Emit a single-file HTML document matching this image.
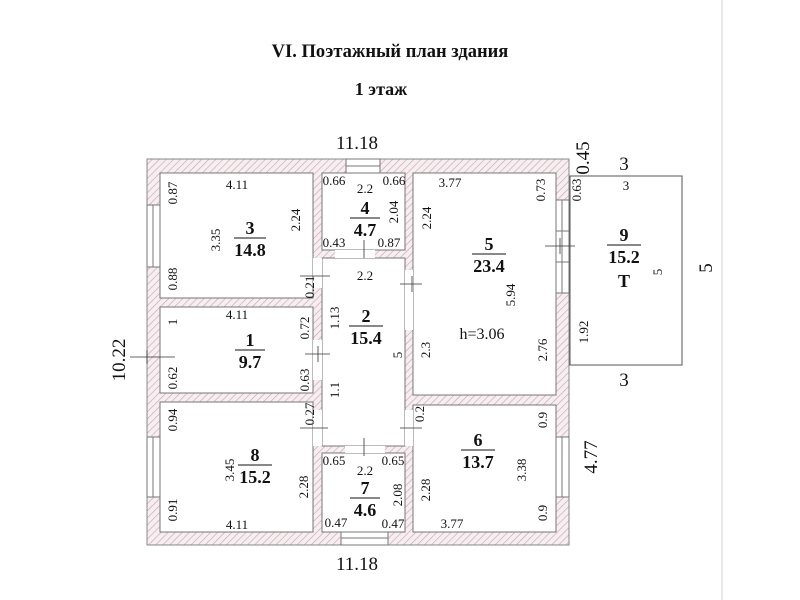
<!DOCTYPE html>
<html><head><meta charset="utf-8"><style>
body{margin:0;background:#fff}
svg{display:block}
text{font-family:"Liberation Serif",serif;fill:#111}
.s{font-size:13px}
.m{font-size:19px}
.b{font-size:18px;font-weight:bold}
</style></head><body>
<svg width="800" height="600" viewBox="0 0 800 600">
<defs>
<pattern id="h" width="5" height="5" patternUnits="userSpaceOnUse" patternTransform="rotate(45)">
<rect width="5" height="5" fill="#f6eef0"/><line x1="0" y1="0" x2="0" y2="5" stroke="#c9a9b0" stroke-width="1.3"/>
</pattern>
</defs>
<line x1="722" y1="0" x2="722" y2="600" stroke="#e8e8e8" stroke-width="2"/>
<text x="390" y="57" text-anchor="middle" style="font-size:18.5px;font-weight:bold">VI. Поэтажный план здания</text>
<text x="381" y="95" text-anchor="middle" style="font-size:18px;font-weight:bold">1 этаж</text>
<!-- walls -->
<rect x="147" y="159" width="422" height="386" fill="url(#h)" stroke="#888" stroke-width="1"/>
<g fill="#fff" stroke="#777" stroke-width="1">
<rect x="160" y="173" width="153" height="125"/>
<rect x="322" y="173" width="83" height="77"/>
<rect x="413" y="173" width="143" height="222"/>
<rect x="160" y="307" width="153" height="86"/>
<rect x="322" y="258" width="83" height="188"/>
<rect x="160" y="402" width="153" height="130"/>
<rect x="322" y="453" width="83" height="79"/>
<rect x="413" y="405" width="143" height="127"/>
</g>
<g fill="#fff" stroke="none">
<rect x="313" y="258" width="9" height="30"/>
<rect x="313" y="340" width="9" height="40"/>
<rect x="313" y="410" width="9" height="36"/>
<rect x="405" y="270" width="8" height="60"/>
<rect x="405" y="410" width="8" height="36"/>
<rect x="335" y="250" width="40" height="8"/>
<rect x="345" y="446" width="40" height="7"/>
</g>
<g fill="#fff" stroke="#777" stroke-width="1">
<rect x="147" y="205" width="13" height="62"/>
<rect x="147" y="437" width="13" height="60"/>
<rect x="556" y="437" width="13" height="60"/>
<rect x="556" y="200" width="13" height="93"/>
<rect x="346" y="159" width="34" height="14"/>
<rect x="341" y="532" width="47" height="13"/>
</g>
<g stroke="#777" stroke-width="1">
<line x1="153" y1="205" x2="153" y2="267"/>
<line x1="153" y1="437" x2="153" y2="497"/>
<line x1="562" y1="437" x2="562" y2="497"/>
<line x1="562" y1="200" x2="562" y2="293"/>
<line x1="556" y1="231" x2="569" y2="231"/><line x1="556" y1="262" x2="569" y2="262"/>
<line x1="346" y1="166" x2="380" y2="166"/>
<line x1="341" y1="538" x2="388" y2="538"/>
</g>
<g stroke="#333" stroke-width="0.8">
<line x1="130" y1="357" x2="175" y2="357"/><line x1="147" y1="350" x2="147" y2="364"/>
<line x1="545" y1="246" x2="575" y2="246"/><line x1="560" y1="238" x2="560" y2="254"/>
<line x1="570" y1="365" x2="680" y2="365"/>
<line x1="305" y1="354" x2="330" y2="354"/><line x1="318" y1="346" x2="318" y2="362"/>
<line x1="300" y1="276" x2="330" y2="276"/>
<line x1="300" y1="428" x2="328" y2="428"/>
<line x1="400" y1="428" x2="422" y2="428"/>
<line x1="400" y1="284" x2="422" y2="284"/><line x1="412" y1="276" x2="412" y2="292"/>
<line x1="364" y1="240" x2="364" y2="258"/>
<line x1="364" y1="438" x2="364" y2="456"/>
</g>
<rect x="570" y="176" width="112" height="189" fill="none" stroke="#555" stroke-width="1"/>
<g class="m">
<text x="357" y="149" text-anchor="middle">11.18</text>
<text x="357" y="570" text-anchor="middle">11.18</text>
<text x="624" y="170" text-anchor="middle">3</text>
<text x="624" y="386" text-anchor="middle">3</text>
<text transform="translate(125,360) rotate(-90)" text-anchor="middle">10.22</text>
<text transform="translate(597,457) rotate(-90)" text-anchor="middle">4.77</text>
<text transform="translate(712,268) rotate(-90)" text-anchor="middle">5</text>
<text transform="translate(589,158) rotate(-90)" text-anchor="middle">0.45</text>
</g>
<g class="s">
<text x="237" y="189" text-anchor="middle">4.11</text>
<text x="237" y="319" text-anchor="middle">4.11</text>
<text x="237" y="529" text-anchor="middle">4.11</text>
<text x="450" y="187" text-anchor="middle">3.77</text>
<text x="452" y="528" text-anchor="middle">3.77</text>
<text x="365" y="193" text-anchor="middle">2.2</text>
<text x="365" y="280" text-anchor="middle">2.2</text>
<text x="365" y="475" text-anchor="middle">2.2</text>
<text x="334" y="185" text-anchor="middle">0.66</text>
<text x="394" y="185" text-anchor="middle">0.66</text>
<text x="334" y="247" text-anchor="middle">0.43</text>
<text x="389" y="247" text-anchor="middle">0.87</text>
<text x="334" y="465" text-anchor="middle">0.65</text>
<text x="393" y="465" text-anchor="middle">0.65</text>
<text x="336" y="527" text-anchor="middle">0.47</text>
<text x="393" y="528" text-anchor="middle">0.47</text>
<text x="626" y="190" text-anchor="middle">3</text>
<text x="482" y="339" text-anchor="middle" style="font-size:16px">h=3.06</text>
</g>
<g class="s">
<text transform="translate(177,193) rotate(-90)" text-anchor="middle">0.87</text>
<text transform="translate(177,279) rotate(-90)" text-anchor="middle">0.88</text>
<text transform="translate(220,240) rotate(-90)" text-anchor="middle">3.35</text>
<text transform="translate(300,220) rotate(-90)" text-anchor="middle">2.24</text>
<text transform="translate(314,287) rotate(-90)" text-anchor="middle">0.21</text>
<text transform="translate(398,212) rotate(-90)" text-anchor="middle">2.04</text>
<text transform="translate(431,218) rotate(-90)" text-anchor="middle">2.24</text>
<text transform="translate(545,190) rotate(-90)" text-anchor="middle">0.73</text>
<text transform="translate(581,190) rotate(-90)" text-anchor="middle">0.63</text>
<text transform="translate(515,295) rotate(-90)" text-anchor="middle">5.94</text>
<text transform="translate(430,350) rotate(-90)" text-anchor="middle">2.3</text>
<text transform="translate(547,350) rotate(-90)" text-anchor="middle">2.76</text>
<text transform="translate(588,332) rotate(-90)" text-anchor="middle">1.92</text>
<text transform="translate(662,272) rotate(-90)" text-anchor="middle">5</text>
<text transform="translate(402,355) rotate(-90)" text-anchor="middle">5</text>
<text transform="translate(177,322) rotate(-90)" text-anchor="middle">1</text>
<text transform="translate(177,378) rotate(-90)" text-anchor="middle">0.62</text>
<text transform="translate(309,328) rotate(-90)" text-anchor="middle">0.72</text>
<text transform="translate(309,380) rotate(-90)" text-anchor="middle">0.63</text>
<text transform="translate(339,318) rotate(-90)" text-anchor="middle">1.13</text>
<text transform="translate(339,390) rotate(-90)" text-anchor="middle">1.1</text>
<text transform="translate(314,414) rotate(-90)" text-anchor="middle">0.27</text>
<text transform="translate(424,414) rotate(-90)" text-anchor="middle">0.2</text>
<text transform="translate(177,420) rotate(-90)" text-anchor="middle">0.94</text>
<text transform="translate(177,510) rotate(-90)" text-anchor="middle">0.91</text>
<text transform="translate(234,470) rotate(-90)" text-anchor="middle">3.45</text>
<text transform="translate(308,487) rotate(-90)" text-anchor="middle">2.28</text>
<text transform="translate(402,495) rotate(-90)" text-anchor="middle">2.08</text>
<text transform="translate(430,490) rotate(-90)" text-anchor="middle">2.28</text>
<text transform="translate(526,470) rotate(-90)" text-anchor="middle">3.38</text>
<text transform="translate(547,420) rotate(-90)" text-anchor="middle">0.9</text>
<text transform="translate(547,513) rotate(-90)" text-anchor="middle">0.9</text>
</g>
<g class="b" text-anchor="middle">
<text x="250" y="234">3</text><text x="250" y="256">14.8</text>
<text x="365" y="214">4</text><text x="365" y="236">4.7</text>
<text x="489" y="250">5</text><text x="489" y="272">23.4</text>
<text x="624" y="241">9</text><text x="624" y="263">15.2</text>
<text x="624" y="287">T</text>
<text x="366" y="322">2</text><text x="366" y="344">15.4</text>
<text x="250" y="346">1</text><text x="250" y="368">9.7</text>
<text x="255" y="461">8</text><text x="255" y="483">15.2</text>
<text x="365" y="494">7</text><text x="365" y="516">4.6</text>
<text x="478" y="446">6</text><text x="478" y="468">13.7</text>
</g>
<g stroke="#111" stroke-width="1">
<line x1="234" y1="238" x2="266" y2="238"/>
<line x1="350" y1="218" x2="380" y2="218"/>
<line x1="472" y1="254" x2="506" y2="254"/>
<line x1="607" y1="245" x2="641" y2="245"/>
<line x1="349" y1="326" x2="383" y2="326"/>
<line x1="235" y1="350" x2="265" y2="350"/>
<line x1="238" y1="465" x2="272" y2="465"/>
<line x1="350" y1="498" x2="380" y2="498"/>
<line x1="461" y1="450" x2="495" y2="450"/>
</g>
</svg>
</body></html>
